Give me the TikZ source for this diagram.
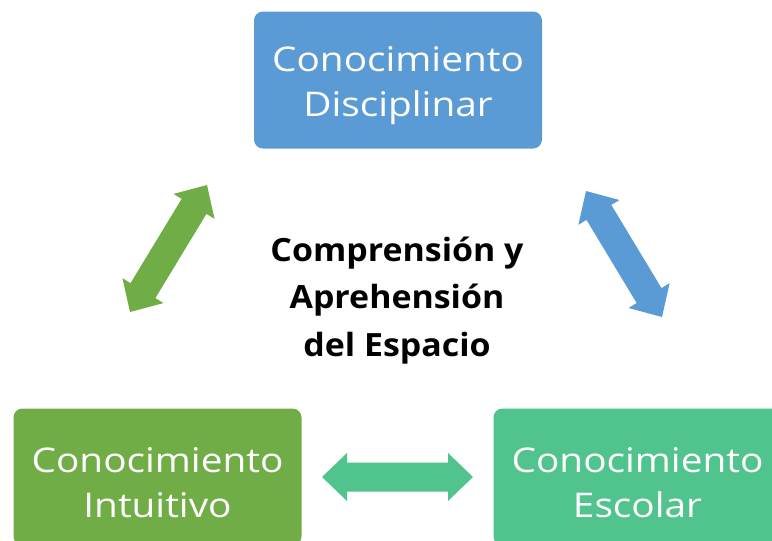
\documentclass[tikz,border=0pt]{standalone}
\usepackage{fontspec}
\setmainfont{Open Sans}
\newfontfamily\boxfont{Open Sans}[FakeStretch=1.14]
\newfontfamily\centfont{Open Sans}[FakeStretch=1.06]
\usetikzlibrary{calc}
\definecolor{cblue}{HTML}{5B9BD5}
\definecolor{cgreen}{HTML}{70AD47}
\definecolor{cteal}{HTML}{50C48C}
\tikzset{
  box/.style={rounded corners=9pt, minimum width=288pt, minimum height=137pt,
    text=white, align=center, inner sep=0pt,
    font=\boxfont\fontsize{34}{45}\selectfont},
  centertext/.style={align=center, font=\centfont\bfseries\fontsize{32}{47.5}\selectfont}
}
\newcommand\lift{\rule{0pt}{36pt}}
% block double arrow between two named coordinates
\newcommand\ap[2]{({\x1+(#1)*\n2-(#2)*\n3},{\y1+(#1)*\n3+(#2)*\n2})}
\newcommand\blockarrow[3]{%
  \fill[#1] let \p1=(#2), \p2=(#3), \n1={veclen(\x2-\x1,\y2-\y1)},
    \n2={(\x2-\x1)/\n1}, \n3={(\y2-\y1)/\n1}, \n4={\n1-25} in
    \ap{0}{0} -- \ap{25}{24} -- \ap{25}{14.5} -- \ap{\n4}{14.5} -- \ap{\n4}{24}
    -- \ap{\n1}{0} -- \ap{\n4}{-24} -- \ap{\n4}{-14.5} -- \ap{25}{-14.5}
    -- \ap{25}{-24} -- cycle;}
\begin{document}
\begin{tikzpicture}[x=1pt,y=1pt]
\useasboundingbox (0,0) rectangle (772,-541);
\clip (0,0) rectangle (772,-541);
\node[box, fill=cblue] (disc) at (398,-80) {\lift Conocimiento\\Disciplinar};
\node[box, fill=cgreen] (intu) at (157.5,-477) {\lift Conocimiento\\Intuitivo};
\node[box, fill=cteal] (esco) at (637.5,-477) {\lift Conocimiento\\Escolar};
\node[centertext] (centro) at (397,-300.5) {Comprensión y\\Aprehensión\\del Espacio};
% arrow end points
\coordinate (g1) at (130,-312);
\coordinate (g2) at (207,-185);
\coordinate (b1) at (586,-191);
\coordinate (b2) at (662,-317);
\coordinate (t1) at (322,-477);
\coordinate (t2) at (473,-477);
\blockarrow{cgreen}{g1}{g2}
\blockarrow{cblue}{b1}{b2}
\blockarrow{cteal}{t1}{t2}
\end{tikzpicture}
\end{document}
